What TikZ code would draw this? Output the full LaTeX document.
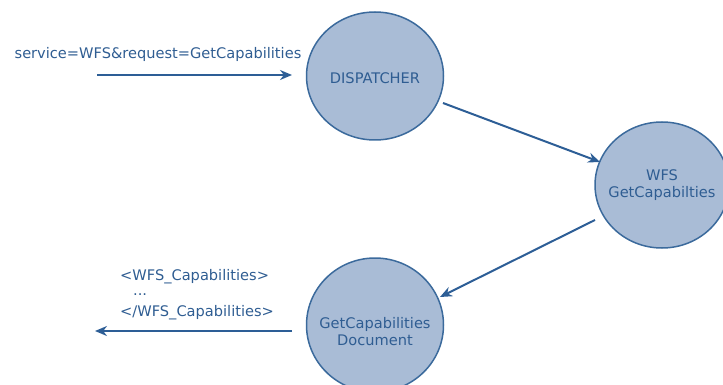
\documentclass[tikz,border=0pt]{standalone}
\usepackage{fontspec}
\setmainfont{DejaVu Sans}
\usetikzlibrary{arrows.meta,shapes.geometric}
\definecolor{nodefill}{HTML}{A9BCD6}
\definecolor{nodeline}{HTML}{3B6A9C}
\definecolor{ink}{HTML}{2F5D92}
\definecolor{arrowc}{HTML}{2D5E96}
\tikzset{
  state/.style={ellipse, draw=nodeline, line width=1.5pt, fill=nodefill, inner sep=0pt},
  statetext/.style={text=ink, font=\fontsize{14.6}{17}\selectfont, align=center, inner sep=0pt},
  flow/.style={draw=arrowc, line width=2pt, -{Stealth[length=12pt,width=10pt]}},
  label/.style={text=ink, font=\fontsize{14.6}{17}\selectfont, inner sep=0pt}
}
\begin{document}
\begin{tikzpicture}[x=1pt,y=-1pt]
  \useasboundingbox (0,0) rectangle (723,385);
  % nodes: outline first, then the caption on top
  \node[state, minimum width=137pt, minimum height=128pt] (disp) at (375,76) {};
  \node[statetext] (disptext) at ([yshift=-2pt]disp.center) {DISPATCHER};
  \node[state, minimum width=134pt, minimum height=126pt] (wfs) at (662,185) {};
  \node[statetext] (wfstext) at (wfs.center) {WFS\\GetCapabilties};
  \node[state, minimum width=137pt, minimum height=134pt] (doc) at (375,325) {};
  \node[statetext] (doctext) at ([yshift=-7pt]doc.center) {GetCapabilities\\Document};
  % request text and arrow
  \node[label] (req) at (158,54) {service=WFS\&request=GetCapabilities};
  \coordinate (reqstart) at (97,75);
  \coordinate (reqend) at (292,75);
  \draw[flow] (reqstart) -- (reqend);
  % internal flow
  \coordinate (a1) at (443,103);
  \coordinate (a2) at (600,162);
  \draw[flow] (a1) -- (a2);
  \coordinate (b1) at (595,220);
  \coordinate (b2) at (440,297);
  \draw[flow] (b1) -- (b2);
  % response text and arrow
  \node[label, anchor=west] (r1) at (120,277) {<WFS\_Capabilities>};
  \node[label, anchor=west] (r2) at (133,295) {...};
  \node[label, anchor=west] (r3) at (120,313) {</WFS\_Capabilities>};
  \coordinate (respstart) at (292,331);
  \coordinate (respend) at (95,331);
  \draw[flow] (respstart) -- (respend);
\end{tikzpicture}
\end{document}
